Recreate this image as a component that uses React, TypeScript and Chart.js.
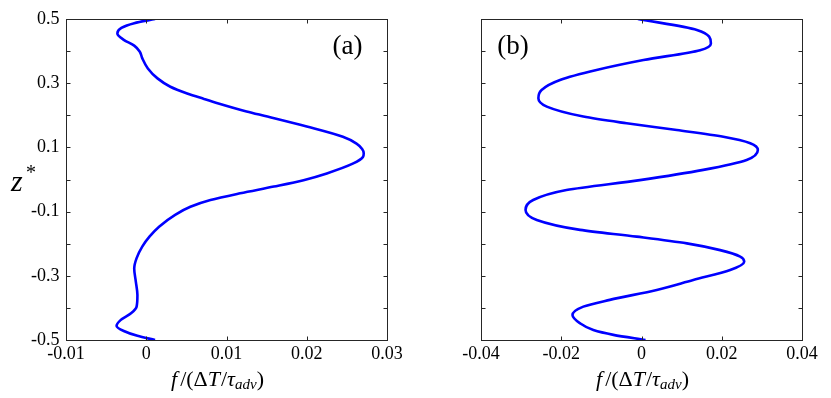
import React, { useEffect, useRef } from "react";
import { Chart, registerables } from "chart.js";

Chart.register(...registerables);

// ---- Data ----
// Panel (a): z* values and f/(ΔT/τadv)
const zA = [0.5, 0.487, 0.472, 0.455, 0.435, 0.417, 0.398, 0.378, 0.346, 0.315, 0.289, 0.268, 0.251, 0.237, 0.212, 0.196, 0.165, 0.133, 0.112, 0.095, 0.082, 0.07, 0.05, 0.019, -0.002, -0.022, -0.043, -0.064, -0.085, -0.11, -0.147, -0.178, -0.209, -0.245, -0.277, -0.318, -0.36, -0.396, -0.417, -0.438, -0.456, -0.472, -0.487, -0.5];
const fA = [0.0011, -0.0015, -0.0031, -0.0036, -0.0028, -0.0015, -0.0008, -0.0005, 0.0002, 0.0014, 0.003, 0.0051, 0.0072, 0.009, 0.0125, 0.0151, 0.02, 0.0245, 0.0262, 0.0269, 0.0271, 0.027, 0.0258, 0.0225, 0.0196, 0.0159, 0.0117, 0.008, 0.0055, 0.0036, 0.0016, 0.0004, -0.0005, -0.0012, -0.0015, -0.0013, -0.0011, -0.0012, -0.0019, -0.0032, -0.0037, -0.0028, -0.0011, 0.0011];
// Panel (b)
const zB = [0.5, 0.466, 0.424, 0.403, 0.372, 0.341, 0.31, 0.279, 0.253, 0.227, 0.196, 0.175, 0.154, 0.133, 0.113, 0.092, 0.061, 0.03, -0.002, -0.033, -0.064, -0.095, -0.126, -0.157, -0.178, -0.199, -0.22, -0.24, -0.256, -0.282, -0.313, -0.344, -0.375, -0.396, -0.422, -0.448, -0.469, -0.484, -0.5];
const fB = [-0.0009, 0.0138, 0.0173, 0.0146, 0.0005, -0.0112, -0.0203, -0.0249, -0.0257, -0.0236, -0.0145, -0.0037, 0.0088, 0.0204, 0.0271, 0.029, 0.0262, 0.0154, -0.0004, -0.0187, -0.027, -0.0289, -0.0261, -0.0153, -0.0012, 0.0113, 0.0196, 0.0246, 0.0256, 0.0221, 0.0129, 0.0038, -0.0079, -0.0145, -0.0172, -0.0153, -0.012, -0.007, 0.001];

// Ticks
const yTicks = [-0.5, -0.4, -0.3, -0.2, -0.1, 0, 0.1, 0.2, 0.3, 0.4, 0.5];
const yTickLabels = ["-0.5", "", "-0.3", "", "-0.1", "", "0.1", "", "0.3", "", "0.5"];
const xTicksA = [-0.01, 0, 0.01, 0.02, 0.03];
const xTickLabelsA = ["-0.01", "0", "0.01", "0.02", "0.03"];
const xTicksB = [-0.04, -0.02, 0, 0.02, 0.04];
const xTickLabelsB = ["-0.04", "-0.02", "0", "0.02", "0.04"];

const FONT = "'Liberation Serif', 'DejaVu Serif', serif";
const AXIS_COLOR = "#262626";

type PanelCfg = {
  z: number[];
  f: number[];
  xMin: number;
  xMax: number;
  xTicks: number[];
  xLabels: string[];
  showYLabels: boolean;
  panelLabel: string;
  panelLabelX: number;
  titleOffset: number;
};

function drawXTitle(ctx: CanvasRenderingContext2D, cx: number, cy: number) {
  const size = 22;
  const segs: { t: string; it: boolean; sub?: boolean }[] = [
    { t: "f", it: true },
    { t: "/(Δ", it: false },
    { t: "T", it: true },
    { t: "/", it: false },
    { t: "τ", it: true },
    { t: "adv", it: true, sub: true },
    { t: ")", it: false },
  ];
  const fontFor = (s: { it: boolean; sub?: boolean }) =>
    `${s.it ? "italic " : ""}${s.sub ? 15 : size}px ${FONT}`;
  let total = 0;
  const widths = segs.map((s) => {
    ctx.font = fontFor(s);
    const w = ctx.measureText(s.t).width + (s.t === "f" ? 3 : 0) + (s.t === "T" ? 1 : 0);
    total += w;
    return w;
  });
  let x = cx - total / 2;
  ctx.fillStyle = "#000";
  ctx.textBaseline = "middle";
  ctx.textAlign = "left";
  segs.forEach((s, i) => {
    ctx.font = fontFor(s);
    ctx.fillText(s.t, x, s.sub ? cy + 5 : cy);
    x += widths[i];
  });
}

function makePlugin(cfg: PanelCfg) {
  return {
    id: "matlabAxes",
    afterDraw(chart: any) {
      const ctx: CanvasRenderingContext2D = chart.ctx;
      const area = chart.chartArea;
      const xs = chart.scales.x;
      const ys = chart.scales.y;
      const L = Math.round(area.left) + 0.5;
      const R = Math.round(area.right) + 0.5;
      const T = Math.round(area.top) + 0.5;
      const B = Math.round(area.bottom) + 0.5;
      ctx.save();
      ctx.strokeStyle = AXIS_COLOR;
      ctx.lineWidth = 1;
      ctx.strokeRect(L, T, R - L, B - T);
      const tl = 4;
      ctx.beginPath();
      cfg.xTicks.forEach((v) => {
        const px = Math.round(xs.getPixelForValue(v)) + 0.5;
        ctx.moveTo(px, B);
        ctx.lineTo(px, B - tl);
        ctx.moveTo(px, T);
        ctx.lineTo(px, T + tl);
      });
      yTicks.forEach((v) => {
        const py = Math.round(ys.getPixelForValue(v)) + 0.5;
        ctx.moveTo(L, py);
        ctx.lineTo(L + tl, py);
        ctx.moveTo(R, py);
        ctx.lineTo(R - tl, py);
      });
      ctx.stroke();

      ctx.fillStyle = "#000";
      ctx.font = `18px ${FONT}`;
      ctx.textAlign = "center";
      ctx.textBaseline = "middle";
      cfg.xTicks.forEach((v, i) => {
        ctx.fillText(cfg.xLabels[i], xs.getPixelForValue(v), B + 14);
      });
      if (cfg.showYLabels) {
        ctx.textAlign = "right";
        yTicks.forEach((v, i) => {
          if (yTickLabels[i]) ctx.fillText(yTickLabels[i], L - 7, ys.getPixelForValue(v));
        });
        // y axis title z* (horizontal)
        ctx.textAlign = "left";
        ctx.textBaseline = "alphabetic";
        ctx.font = `italic 30px ${FONT}`;
        ctx.fillText("z", 11, 191);
        ctx.font = `20px ${FONT}`;
        ctx.fillText("*", 26, 179);
      }
      drawXTitle(ctx, (area.left + area.right) / 2 + cfg.titleOffset, B + 40);

      // panel label
      ctx.font = `27px ${FONT}`;
      ctx.textAlign = "center";
      ctx.textBaseline = "middle";
      ctx.fillText(cfg.panelLabel, area.left + (area.right - area.left) * cfg.panelLabelX, area.top + 28);
      ctx.restore();
    },
  };
}

function Panel({ cfg, left, width, padL, padR }: { cfg: PanelCfg; left: number; width: number; padL: number; padR: number }) {
  const ref = useRef<HTMLCanvasElement>(null);
  useEffect(() => {
    if (!ref.current) return;
    const pts = cfg.z.map((z, i) => ({ x: cfg.f[i], y: z }));
    const chart = new Chart(ref.current, {
      type: "line",
      data: {
        datasets: [
          {
            data: pts,
            borderColor: "#0000FF",
            borderWidth: 2.6,
            pointRadius: 0,
            cubicInterpolationMode: "monotone",
            fill: false,
          },
        ],
      },
      options: {
        indexAxis: "y",
        animation: false,
        responsive: false,
        devicePixelRatio: 1,
        layout: { padding: { left: padL, right: padR, top: 19, bottom: 58 } },
        plugins: { legend: { display: false }, tooltip: { enabled: false } },
        scales: {
          x: { type: "linear", min: cfg.xMin, max: cfg.xMax, display: false },
          y: { type: "linear", min: -0.5, max: 0.5, display: false },
        },
      },
      plugins: [makePlugin(cfg)],
    });
    return () => chart.destroy();
  }, []);
  return (
    <canvas
      ref={ref}
      width={width}
      height={398}
      style={{ position: "absolute", left, top: 0, width, height: 398 }}
    />
  );
}

const cfgA: PanelCfg = {
  z: zA,
  f: fA,
  xMin: -0.01,
  xMax: 0.03,
  xTicks: xTicksA,
  xLabels: xTickLabelsA,
  showYLabels: true,
  panelLabel: "(a)",
  panelLabelX: 0.877,
  titleOffset: -9,
};
const cfgB: PanelCfg = {
  z: zB,
  f: fB,
  xMin: -0.04,
  xMax: 0.04,
  xTicks: xTicksB,
  xLabels: xTickLabelsB,
  showYLabels: false,
  panelLabel: "(b)",
  panelLabelX: 0.1,
  titleOffset: 1,
};

export default function App() {
  useEffect(() => {
    document.body.style.margin = "0";
  }, []);
  return (
    <div style={{ position: "fixed", left: 0, top: 0, width: 831, height: 398, background: "#fff" }}>
      <Panel cfg={cfgA} left={0} width={415} padL={66} padR={28} />
      <Panel cfg={cfgB} left={415} width={416} padL={66} padR={29} />
    </div>
  );
}
